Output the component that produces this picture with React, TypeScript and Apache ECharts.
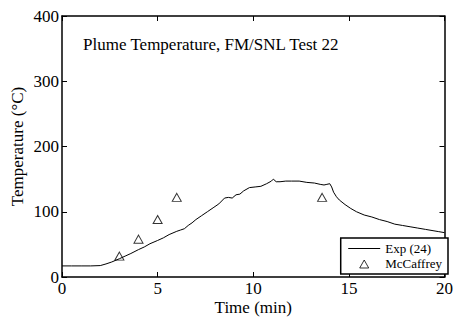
import React, { useEffect, useRef } from "react";
import * as echarts from "echarts";

const timeMin = [0, 0.5, 1.0, 1.5, 2.0, 2.3, 2.6, 3.0, 3.3, 3.6, 4.0, 4.3, 4.6, 5.0, 5.3, 5.6, 6.0, 6.2, 6.4, 6.6, 6.8, 7.0, 7.3, 7.6, 7.9, 8.2, 8.5, 8.7, 8.9, 9.1, 9.3, 9.5, 9.8, 10.1, 10.4, 10.7, 10.95, 11.05, 11.2, 11.4, 11.7, 12.0, 12.4, 12.8, 13.2, 13.5, 13.7, 13.85, 14.0, 14.1, 14.2, 14.35, 14.5, 14.8, 15.1, 15.4, 15.8, 16.2, 16.6, 17.0, 17.4, 17.8, 18.2, 18.6, 19.0, 19.4, 19.7, 20.0];
const expTemp = [17, 17, 17, 17, 17.5, 20, 23, 28, 32, 36, 42, 46, 51, 56, 60, 65, 70, 72, 74, 79, 83, 88, 94, 100, 106, 112, 121, 122, 121, 126, 127, 132, 137, 138, 139, 143, 147, 150, 146, 146, 147, 147, 147, 145, 144, 142, 141, 142, 143, 138, 130, 123, 118, 111, 105, 100, 95, 92, 88, 85, 81, 79, 77, 75, 73, 71, 69.5, 68];

const mcTime = [3, 4, 5, 6, 13.6];
const mcTemp = [32, 58, 88, 122, 122];

const xTicks = [0, 5, 10, 15, 20];
const yTicks = [0, 100, 200, 300, 400];

const FONT = "'Liberation Serif', 'Times New Roman', serif";

const mkLine = () => ({ show: true, onZero: false, lineStyle: { color: "#000", width: 1.5 } });
const mkTick = () => ({ show: true, inside: true, length: 5, lineStyle: { color: "#000", width: 1 } });

export default function App() {
  const ref = useRef<HTMLDivElement>(null);
  useEffect(() => {
    if (!ref.current) return;
    const chart = echarts.init(ref.current, undefined, { renderer: "svg" });
    const lbl = { color: "#000", fontSize: 17, fontFamily: FONT };
    chart.setOption({
      animation: false,
      backgroundColor: "#fff",
      title: {
        text: "Plume Temperature, FM/SNL Test 22",
        left: 78,
        top: 31,
        textStyle: { color: "#000", fontSize: 17, fontWeight: "normal", fontFamily: FONT },
      },
      grid: { left: 62, right: 10, top: 16, bottom: 44 },
      legend: {
        data: [
          {
            name: "Exp (24)",
            icon: "path://M0,0 H32 V1 H0 Z",
            itemStyle: { color: "#000", borderWidth: 0 },
          },
          {
            name: "McCaffrey",
            icon: "path://M0,0 Z M32,10 Z M16,1.5 L20.5,9.5 L11.5,9.5 Z",
            itemStyle: { color: "transparent", borderColor: "#000", borderWidth: 1 },
          },
        ],
        orient: "vertical",
        right: 8,
        bottom: 47,
        align: "left",
        backgroundColor: "#fff",
        borderColor: "#000",
        borderWidth: 1.5,
        borderRadius: 0,
        padding: [4, 6, 4, 7],
        itemGap: 2,
        itemWidth: 32,
        itemHeight: 10,
        textStyle: { color: "#000", fontSize: 13, fontFamily: FONT },
      },
      xAxis: [
        {
          type: "value",
          min: 0,
          max: 20,
          interval: 5,
          name: "Time (min)",
          nameLocation: "middle",
          nameGap: 22,
          nameMoveOverlap: false,
          nameTextStyle: { color: "#000", fontSize: 17, fontFamily: FONT },
          axisLine: mkLine(),
          axisTick: mkTick(),
          axisLabel: { ...lbl, margin: 3, formatter: (v: number) => (xTicks.includes(v) ? String(v) : "") },
          splitLine: { show: false },
        },
        {
          type: "value",
          position: "top",
          min: 0,
          max: 20,
          interval: 5,
          axisLine: mkLine(),
          axisTick: mkTick(),
          axisLabel: { show: false },
          splitLine: { show: false },
        },
      ],
      yAxis: [
        {
          type: "value",
          min: 0,
          max: 400,
          interval: 100,
          name: "Temperature (°C)",
          nameLocation: "middle",
          nameGap: 36,
          nameMoveOverlap: false,
          nameTextStyle: { color: "#000", fontSize: 17, fontFamily: FONT },
          axisLine: mkLine(),
          axisTick: mkTick(),
          axisLabel: { ...lbl, margin: 3, formatter: (v: number) => (yTicks.includes(v) ? String(v) : "") },
          splitLine: { show: false },
        },
        {
          type: "value",
          position: "right",
          min: 0,
          max: 400,
          interval: 100,
          axisLine: mkLine(),
          axisTick: mkTick(),
          axisLabel: { show: false },
          splitLine: { show: false },
        },
      ],
      series: [
        {
          name: "Exp (24)",
          type: "line",
          data: timeMin.map((t, i) => [t, expTemp[i]]),
          symbol: "none",
          lineStyle: { color: "#000", width: 1 },
          itemStyle: { color: "#000" },
        },
        {
          name: "McCaffrey",
          type: "scatter",
          data: mcTime.map((t, i) => [t, mcTemp[i]]),
          symbol: "triangle",
          symbolSize: [9, 8],
          itemStyle: { color: "transparent", borderColor: "#000", borderWidth: 1 },
        },
      ],
    });
    return () => chart.dispose();
  }, []);
  return <div ref={ref} style={{ position: "fixed", left: 0, top: 0, width: 456, height: 321 }} />;
}
